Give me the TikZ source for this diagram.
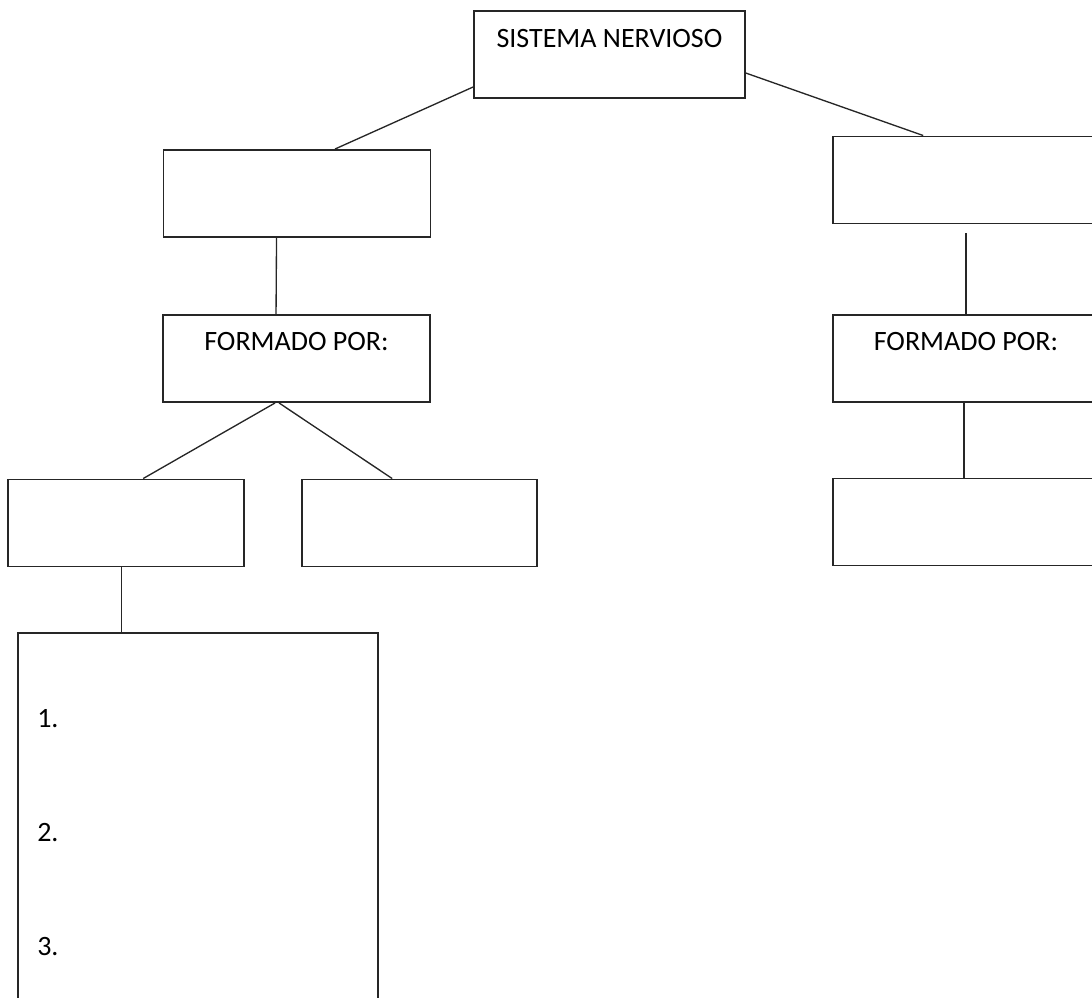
\documentclass[tikz,border=0pt]{standalone}
\usepackage{fontspec}
\setmainfont{Carlito}
\usetikzlibrary{positioning,calc}

\begin{document}
\begin{tikzpicture}[
    x=0.75pt, y=-0.75pt,
    box/.style={rectangle, draw=black!85, line width=1.2pt, inner sep=0pt, minimum height=65.5pt},
    leftbox/.style={box, minimum width=200.5pt},
    rightbox/.style={box, minimum width=199.5pt},
    title/.style={inner sep=0pt, font=\fontsize{21}{25}\selectfont},
    line/.style={draw=black!85, line width=1pt}
]
    \clip (0,0) rectangle (1092,998);

    % Boxes
    \node[box, minimum width=203.25pt] (sn) at (609.5,54.5) {};
    \node[leftbox] (izq) at (297,193.5) {};
    \node[rightbox] (der) at (966,180) {};
    \node[leftbox] (formizq) at (296.5,358.5) {};
    \node[rightbox] (formder) at (966,358.5) {};
    \node[box, minimum width=177pt] (cajaA) at (126,523) {};
    \node[box, minimum width=176.25pt] (cajaB) at (419.5,523) {};
    \node[rightbox] (derabajo) at (966,522) {};
    \node[box, minimum width=270pt, minimum height=312.75pt] (lista) at (198,841.5) {};

    % Texts
    \node[title, below=14pt of sn.north] (sntext) {SISTEMA NERVIOSO};
    \node[title, below=13.5pt of formizq.north] (formizqtext) {FORMADO POR:};
    \node[title, below=13.5pt of formder.north] (formdertext) {FORMADO POR:};
    \foreach \n/\y in {1/719,2/833,3/947}
        \node[title, anchor=west] (num\n) at (37,\y) {\n.};

    % Lines
    \draw[line] ($(sn.south west)+(0,-12)$) -- ($(izq.north)+(38,0)$);
    \draw[line] ($(sn.north east)+(0,63)$) -- ($(der.north west)+(91,0)$);
    \draw[line] ($(izq.south west)+(114,0)$) -- ($(formizq.north west)+(114,0)$);
    \draw[line] ($(der.south)+(0,9)$) -- (formder.north);
    \draw[line] ($(formizq.south west)+(113,0)$) -- ($(cajaA.north west)+(136,0)$);
    \draw[line] ($(formizq.south west)+(117,0)$) -- ($(cajaB.north west)+(91,0)$);
    \draw[line] ($(formder.south)+(-2,0)$) -- ($(derabajo.north)+(-2,0)$);
    \draw[line] ($(cajaA.south west)+(114,0)$) -- ($(lista.north west)+(104,0)$);

\end{tikzpicture}
\end{document}
